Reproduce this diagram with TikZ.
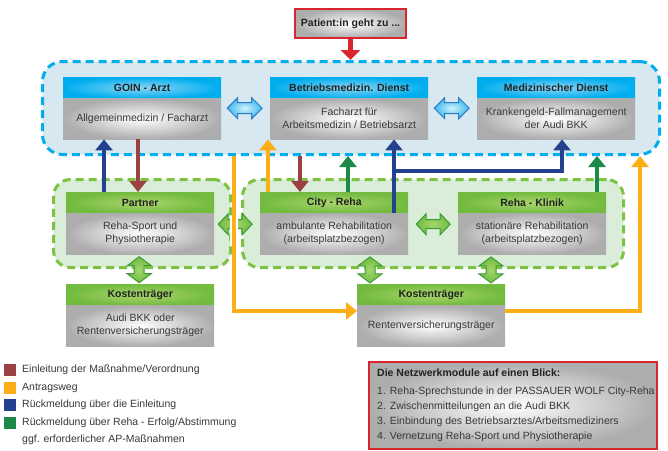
\documentclass[tikz,border=0pt]{standalone}
\usepackage{fontspec}
\setmainfont{Liberation Sans}
\usetikzlibrary{arrows.meta,calc}
\definecolor{cyanD}{HTML}{00AEEF}
\definecolor{cyanL}{HTML}{8AD6F6}
\definecolor{blueFill}{HTML}{D8E8F1}
\definecolor{greenD}{HTML}{72BB3F}
\definecolor{greenL}{HTML}{AAD46C}
\definecolor{greenDash}{HTML}{7DC242}
\definecolor{greenFill}{HTML}{D9EDD9}
\definecolor{bodyGray}{HTML}{ADADAD}
\definecolor{brownC}{HTML}{9B4144}
\definecolor{orangeC}{HTML}{FBAE17}
\definecolor{navyC}{HTML}{25408F}
\definecolor{dgreenC}{HTML}{1B8A48}
\definecolor{redC}{HTML}{D7262E}
\definecolor{txtDark}{HTML}{222222}
\definecolor{txtBody}{HTML}{383838}
\definecolor{dblBlueLine}{HTML}{2E7BC4}
\definecolor{dblBlueIn}{HTML}{D2F1FD}
\definecolor{dblBlueOut}{HTML}{3DBBEE}
\definecolor{dblGreenLine}{HTML}{3F9B3A}
\definecolor{dblGreenIn}{HTML}{A5D66E}
\newcommand\dfont{\fontsize{10.5}{13}\selectfont}
\tikzset{
  hdr/.style={rectangle, minimum height=21pt, inner sep=0pt, font=\bfseries\dfont, text=txtDark, anchor=north west},
  bluehdr/.style={hdr, minimum width=158pt, inner color=cyanL, outer color=cyanD},
  greenhdr/.style={hdr, minimum width=148pt, inner color=greenL, outer color=greenD},
  bodybox/.style={rectangle, minimum height=41pt, inner sep=0pt, align=center, font=\dfont, text=txtBody, inner color=white, outer color=bodyGray, anchor=north west},
  wbody/.style={bodybox, minimum width=158pt},
  nbody/.style={bodybox, minimum width=148pt},
  bluegrp/.style={rectangle, rounded corners=20pt, draw=cyanD, fill=blueFill, line width=3pt, dash pattern=on 8pt off 5pt, anchor=north west, inner sep=0pt},
  greengrp/.style={rectangle, rounded corners=17pt, draw=greenDash, fill=greenFill, line width=3pt, dash pattern=on 8pt off 5pt, anchor=north west, inner sep=0pt},
  conn/.style={line width=4.6pt, -{Triangle[width=17pt,length=11pt]}},
  brownA/.style={conn, draw=brownC},
  orangeA/.style={conn, draw=orangeC},
  navyA/.style={conn, draw=navyC},
  greenA/.style={conn, draw=dgreenC},
  legsq/.style={rectangle, minimum size=12pt, inner sep=0pt},
  legtxt/.style={anchor=west, font=\dfont, text=txtBody, inner sep=0pt},
  nettxt/.style={anchor=west, font=\dfont, text=txtBody, inner sep=0pt},
  pics/bluedbl/.style={code={\path[draw=dblBlueLine, line width=1pt, inner color=dblBlueIn, outer color=dblBlueOut]
      (-17.5,0) -- (-7,-10.5) -- (-7,-5.5) -- (7,-5.5) -- (7,-10.5) -- (17.5,0) -- (7,10.5) -- (7,5.5) -- (-7,5.5) -- (-7,10.5) -- cycle;}},
  pics/greenhdbl/.style={code={\path[draw=dblGreenLine, line width=1pt, inner color=dblGreenIn, outer color=greenD]
      (-17,0) -- (-7,-10.5) -- (-7,-4.5) -- (7,-4.5) -- (7,-10.5) -- (17,0) -- (7,10.5) -- (7,4.5) -- (-7,4.5) -- (-7,10.5) -- cycle;}},
  pics/greenvdbl/.style={code={\path[draw=dblGreenLine, line width=1pt, inner color=dblGreenIn, outer color=greenD]
      (0,-13) -- (12,-4) -- (5,-4) -- (5,4) -- (12,4) -- (0,13) -- (-12,4) -- (-5,4) -- (-5,-4) -- (-12,-4) -- cycle;}},
}
\begin{document}
\begin{tikzpicture}[x=1pt,y=-1pt]
\useasboundingbox (0,0) rectangle (668,450);
\fill[white] (0,0) rectangle (668,450);

% groups
\node[bluegrp, minimum width=617pt, minimum height=93pt] (topG) at (41,60) {};
\node[greengrp, minimum width=177pt, minimum height=88pt] (leftG) at (52,178) {};
\node[greengrp, minimum width=381pt, minimum height=88pt] (rightG) at (241,178) {};

% patient
\node[rectangle, draw=redC, line width=2pt, inner color=white, outer color=bodyGray, minimum width=111pt, minimum height=29pt, font=\bfseries\dfont, text=txtDark, anchor=north west] (patient) at (294,8) {Patient:in geht zu ...};

% top boxes
\node[bluehdr] (goinH) at (63,77) {GOIN - Arzt};
\node[wbody] (goinB) at (63,98) {Allgemeinmedizin / Facharzt};
\node[bluehdr] (betriebH) at (270,77) {Betriebsmedizin. Dienst};
\node[wbody] (betriebB) at (270,98) {Facharzt für\\Arbeitsmedizin / Betriebsarzt};
\node[bluehdr] (mdH) at (477,77) {Medizinischer Dienst};
\node[wbody] (mdB) at (477,98) {Krankengeld-Fallmanagement\\der Audi BKK};

% middle boxes
\node[greenhdr] (partnerH) at (66,192) {Partner};
\node[nbody] (partnerB) at (66,213) {Reha-Sport und\\Physiotherapie};
\node[greenhdr] (cityH) at (260,192) {City - Reha};
\node[nbody] (cityB) at (260,213) {ambulante Rehabilitation\\(arbeitsplatzbezogen)};
\node[greenhdr] (klinikH) at (458,192) {Reha - Klinik};
\node[nbody] (klinikB) at (458,213) {stationäre Rehabilitation\\(arbeitsplatzbezogen)};

% bottom boxes
\node[greenhdr] (kostenLH) at (66,284) {Kostenträger};
\node[nbody] (kostenLB) at (66,305) {Audi BKK oder\\Rentenversicherungsträger};
\node[greenhdr] (kostenRH) at (357,284) {Kostenträger};
\node[nbody] (kostenRB) at (357,305) {Rentenversicherungsträger};

% double arrows
\pic at ($(goinB.east)!.5!(betriebB.west)+(-1,-10.5)$) {bluedbl};
\pic at ($(betriebB.east)!.5!(mdB.west)+(-1,-10.5)$) {bluedbl};
\pic at ($(partnerB.east)!.5!(cityB.west)+(-2,-9.5)$) {greenhdbl};
\pic at ($(cityB.east)!.5!(klinikB.west)+(0,-9.5)$) {greenhdbl};
\pic at ($(partnerB.south)!.5!(kostenLH.north)+(-1,0.5)$) {greenvdbl};
\pic at ($(cityB.south west)+(110,15.5)$) {greenvdbl};
\pic at ($(klinikB.south west)+(33,15.5)$) {greenvdbl};

% connector anchor points
\coordinate (nv1) at ($(partnerH.north west)+(38,0)$);
\coordinate (br1) at ($(goinB.south west)+(75,0)$);
\coordinate (or1) at ($(topG.south west)+(193,0)$);
\coordinate (or2) at ($(cityH.north west)+(8,0)$);
\coordinate (br2) at ($(topG.south west)+(259,0)$);
\coordinate (gr1) at ($(cityH.north west)+(88,0)$);
\coordinate (nv2) at ($(cityH.south west)+(134,0)$);
\coordinate (nvj) at ($(nv2 |- topG.south)+(0,15)$);
\coordinate (nvm) at ($(mdB.south west)+(85,0)$);
\coordinate (gr2) at ($(klinikH.north west)+(139,0)$);
\coordinate (krL) at ($(kostenRB.north west)+(0,6)$);
\coordinate (krR) at ($(kostenRB.north east)+(0,6)$);
\coordinate (or3) at ($(topG.south east)+(-21,0)$);

% connectors
\draw[line width=5pt, draw=redC, -{Triangle[width=19pt,length=10pt]}] (patient.south) -- (patient.south |- topG.north);
\draw[navyA] (nv1) -- (nv1 |- goinB.south);
\draw[brownA] (br1) -- (br1 |- partnerH.north);
\draw[orangeA] (or2) -- (or2 |- betriebB.south);
\draw[brownA] (br2) -- (br2 |- cityH.north);
\draw[greenA] (gr1) -- (gr1 |- topG.south);
\draw[navyA] (nv2) -- (nv2 |- betriebB.south);
\draw[navyA] (nvj) -| (nvm);
\draw[greenA] (gr2) -- (gr2 |- topG.south);
\draw[orangeA] (krR) -| (or3);
\draw[white, line width=8pt] ($(or1)+(0,60)$) -- ($(or1)+(0,86)$);
\draw[orangeA] (or1) |- (krL);

% legend
\node[legsq, fill=brownC] (lq1) at (10,370) {};
\node[legtxt] (lt1) at (22,370) {Einleitung der Maßnahme/Verordnung};
\node[legsq, fill=orangeC] (lq2) at (10,388) {};
\node[legtxt] (lt2) at (22,388) {Antragsweg};
\node[legsq, fill=navyC] (lq3) at (10,405) {};
\node[legtxt] (lt3) at (22,405) {Rückmeldung über die Einleitung};
\node[legsq, fill=dgreenC] (lq4) at (10,423) {};
\node[legtxt] (lt4) at (22,423) {Rückmeldung über Reha - Erfolg/Abstimmung};
\node[legtxt] (lt5) at (22,440) {ggf. erforderlicher AP-Maßnahmen};

% network box
\node[rectangle, draw=redC, line width=2pt, inner color=white, outer color=bodyGray, minimum width=288pt, minimum height=87pt, anchor=north west] (net) at (368,361) {};
\node[nettxt, font=\bfseries\dfont, text=txtDark] (n0) at (377,373) {Die Netzwerkmodule auf einen Blick:};
\node[nettxt] (n1) at (377,392) {1. Reha-Sprechstunde in der PASSAUER WOLF City-Reha};
\node[nettxt] (n2) at (377,407) {2. Zwischenmitteilungen an die Audi BKK};
\node[nettxt] (n3) at (377,422) {3. Einbindung des Betriebsarztes/Arbeitsmediziners};
\node[nettxt] (n4) at (377,437) {4. Vernetzung Reha-Sport und Physiotherapie};
\end{tikzpicture}
\end{document}
